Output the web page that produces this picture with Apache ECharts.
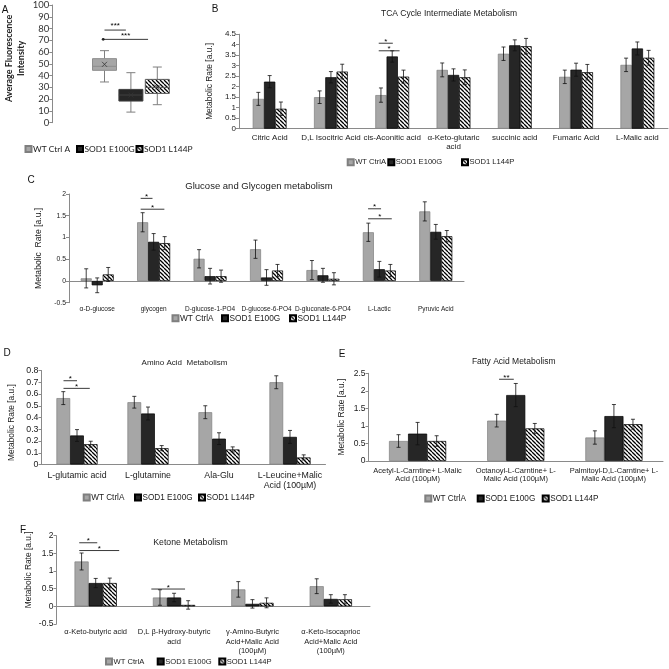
<!DOCTYPE html>
<html><head><meta charset="utf-8">
<script src="https://cdn.jsdelivr.net/npm/echarts@6.0.0/dist/echarts.min.js"></script>
<style>html,body{margin:0;padding:0;background:#fff}#c{width:669px;height:669px}</style>
</head><body><div id="c"></div>
<script>
// ---------------- DATA ----------------
const seriesNames = ['WT CtrlA', 'SOD1 E100G', 'SOD1 L144P'];

// Panel A (box plot)
const catA = ['WT Ctrl A', 'SOD1 E100G', 'SOD1 L144P'];
const boxA = [[34.6, 44.5, 47.9, 54.4, 61.2], [9, 18.4, 23.5, 28.3, 42.5], [15.3, 24.9, 30, 36.8, 47.3]];
const meanA = [49.6, 23.5, 30.2];
const sigA = [[0, 0, 0.81, 78.7], [0, -0.05, 1.65, 70.8]];
const sigTextA = ['***', '***'];

// Panel B
const catB = ['Citric Acid', 'D,L Isocitric Acid', 'cis-Aconitic acid', 'α-Keto-glutaric\nacid', 'succinic acid', 'Fumaric Acid', 'L-Malic acid'];
const wtB = [1.42, 1.5, 1.6, 2.8, 3.57, 2.47, 3.04];
const e100gB = [2.24, 2.45, 3.44, 2.56, 3.97, 2.81, 3.82];
const l144pB = [0.95, 2.72, 2.48, 2.45, 3.93, 2.69, 3.38];
const wtErrB = [0.31, 0.3, 0.34, 0.33, 0.32, 0.32, 0.32];
const e100gErrB = [0.29, 0.27, 0.27, 0.29, 0.26, 0.31, 0.31];
const l144pErrB = [0.32, 0.35, 0.31, 0.35, 0.37, 0.37, 0.35];
const sigB = [[2, -0.22, 0.01, 4.07], [2, -0.22, 0.12, 3.71]];
const sigTextB = ['*', '*'];

// Panel C
const catC = ['α-D-glucose', 'glycogen', 'D-glucose-1-PO4', 'D-glucose-6-PO4', 'D-gluconate-6-PO4', 'L-Lactic', 'Pyruvic Acid'];
const wtC = [0.06, 1.35, 0.51, 0.73, 0.25, 1.12, 1.6];
const e100gC = [-0.1, 0.9, 0.11, 0.08, 0.13, 0.27, 1.13];
const l144pC = [0.15, 0.87, 0.11, 0.24, 0.05, 0.24, 1.03];
const wtErrC = [0.22, 0.22, 0.21, 0.21, 0.22, 0.21, 0.22];
const e100gErrC = [0.17, 0.19, 0.18, 0.18, 0.16, 0.18, 0.17];
const l144pErrC = [0.16, 0.15, 0.14, 0.14, 0.14, 0.14, 0.13];
const sigC = [[1, -0.23, -0.02, 1.9], [1, -0.23, 0.19, 1.65], [5, -0.2, 0.03, 1.66], [5, -0.2, 0.22, 1.43]];
const sigTextC = ['*', '*', '*', '*'];

// Panel D
const catD = ['L-glutamic acid', 'L-glutamine', 'Ala-Glu', 'L-Leucine+Malic\nAcid (100µM)'];
const wtD = [0.565, 0.53, 0.445, 0.70];
const e100gD = [0.247, 0.434, 0.22, 0.235];
const l144pD = [0.173, 0.139, 0.128, 0.06];
const wtErrD = [0.055, 0.05, 0.055, 0.055];
const e100gErrD = [0.05, 0.055, 0.05, 0.055];
const l144pErrD = [0.025, 0.022, 0.022, 0.022];
const sigD = [[0, -0.19, 0.0, 0.713], [0, -0.19, 0.18, 0.648]];
const sigTextD = ['*', '*'];

// Panel E
const catE = ['Acetyl-L-Carntine+ L-Malic\nAcid (100µM)', 'Octanoyl-L-Carntine+ L-\nMalic Acid (100µM)', 'Palmitoyl-D,L-Carntine+ L-\nMalic Acid (100µM)'];
const wtE = [0.57, 1.15, 0.67];
const e100gE = [0.78, 1.88, 1.28];
const l144pE = [0.57, 0.93, 1.05];
const wtErrE = [0.18, 0.18, 0.19];
const e100gErrE = [0.32, 0.33, 0.33];
const l144pErrE = [0.15, 0.14, 0.14];
const sigE = [[1, -0.17, -0.02, 2.33]];
const sigTextE = ['**'];

// Panel F
const catF = ['α-Keto-butyric acid', 'D,L β-Hydroxy-butyric\nacid', 'γ-Amino-Butyric\nAcid+Malic Acid\n(100µM)', 'α-Keto-Isocaprioc\nAcid+Malic Acid\n(100µM)'];
const wtF = [1.27, 0.25, 0.48, 0.57];
const e100gF = [0.66, 0.25, 0.07, 0.21];
const l144pF = [0.66, 0.04, 0.1, 0.2];
const wtErrF = [0.24, 0.22, 0.22, 0.21];
const e100gErrF = [0.13, 0.12, 0.12, 0.12];
const l144pErrF = [0.14, 0.12, 0.14, 0.13];
const sigF = [[0, -0.21, 0.02, 1.8], [0, -0.21, 0.3, 1.58], [1, -0.29, 0.14, 0.49]];
const sigTextF = ['*', '*', '*'];

// ---------------- STYLE / BUILD ----------------
const FONT = 'Liberation Sans';
const FONT_A = 'Lato';
const AX = '#8a8a8a';
const TXT = '#1a1a1a';

function hatchCanvas() {
  const s = 4;
  const c = document.createElement('canvas');
  c.width = s; c.height = s;
  const g = c.getContext('2d');
  g.fillStyle = '#fff'; g.fillRect(0, 0, s, s);
  g.strokeStyle = '#000'; g.lineWidth = 1.3;
  g.beginPath();
  for (const k of [-s, 0, s]) { g.moveTo(k, 0); g.lineTo(k + s, s); }
  g.stroke();
  return c;
}
const hatch = { image: hatchCanvas(), repeat: 'repeat' };
const STY = [
  { color: '#a6a6a6', borderColor: '#7f7f7f', borderWidth: 0.7 },
  { color: '#262626', borderColor: '#000', borderWidth: 0.7 },
  { color: hatch, borderColor: '#000', borderWidth: 0.7 }
];

const grids = [], xAxes = [], yAxes = [], series = [], legends = [], titles = [];

function legendItems(names, lefts, cy, fs, fam) {
  names.forEach((n, i) => {
    legends.push({
      data: [n], left: lefts[i], top: cy - fs * 0.6, padding: 0, itemGap: 0,
      itemWidth: 6, itemHeight: 6, icon: 'rect', selectedMode: false,
      textStyle: { fontSize: fs, fontFamily: fam, color: TXT, padding: [0, 0, 0, -3.5] }
    });
  });
}

function sigSeries(gi, rows, texts, fs, dy) {
  return {
    type: 'custom', xAxisIndex: gi, yAxisIndex: gi, z: 6, silent: true,
    data: rows, encode: { x: 0, y: 3 },
    renderItem: (params, api) => {
      const cat = api.value(0), f1 = api.value(1), f2 = api.value(2), v = api.value(3);
      const p = api.coord([cat, v]);
      const band = api.size([1, 0])[0];
      const x1 = p[0] + f1 * band, x2 = p[0] + f2 * band;
      return {
        type: 'group', children: [
          { type: 'line', shape: { x1: x1, y1: p[1], x2: x2, y2: p[1] }, style: { stroke: '#222', lineWidth: 0.9 } },
          { type: 'text', x: (x1 + x2) / 2, y: p[1] - dy, style: { text: texts[params.dataIndex], font: fs + 'px "' + FONT + '"', fill: '#000', align: 'center', verticalAlign: 'middle' } }
        ]
      };
    }
  };
}

function errRender(off) {
  return (params, api) => {
    const i = api.value(0), m = api.value(1), e = api.value(2);
    const band = api.size([1, 0])[0];
    const x = api.coord([i, m])[0] + off * band;
    const yt = api.coord([i, m + e])[1], yb = api.coord([i, m - e])[1];
    const c = 2;
    const st = { stroke: '#111', lineWidth: 0.8 };
    return {
      type: 'group', children: [
        { type: 'line', shape: { x1: x, y1: yt, x2: x, y2: yb }, style: st },
        { type: 'line', shape: { x1: x - c, y1: yt, x2: x + c, y2: yt }, style: st },
        { type: 'line', shape: { x1: x - c, y1: yb, x2: x + c, y2: yb }, style: st }
      ]
    };
  };
}

function barPanel(o) {
  const gi = grids.length;
  grids.push(o.grid);
  xAxes.push({
    type: 'category', gridIndex: gi, data: o.cats,
    axisLine: { onZero: true, lineStyle: { color: AX } },
    axisTick: { length: 3, lineStyle: { color: AX } },
    axisLabel: { interval: 0, fontSize: o.xfs, fontFamily: FONT, color: TXT, margin: o.xm, lineHeight: o.xlh }
  });
  yAxes.push({
    type: 'value', gridIndex: gi, min: o.min, max: o.max, interval: o.interval,
    splitLine: { show: false },
    axisLine: { show: true, lineStyle: { color: AX } },
    axisTick: { show: true, length: 3, lineStyle: { color: AX } },
    axisLabel: { fontSize: o.yfs, fontFamily: FONT, color: TXT, margin: 3 },
    name: 'Metabolic' + (o.dblSpace ? '  ' : ' ') + 'Rate [a.u.]', nameLocation: 'middle', nameGap: o.ng, nameRotate: 90,
    nameTextStyle: { fontSize: o.nfs, fontFamily: FONT, color: TXT, padding: o.npad || 0 }
  });
  o.vals.forEach((v, k) => {
    series.push({
      type: 'bar', name: seriesNames[k], xAxisIndex: gi, yAxisIndex: gi, data: v,
      barWidth: (o.bw * 100) + '%', barGap: '0%', itemStyle: STY[k], silent: true
    });
  });
  o.vals.forEach((v, k) => {
    series.push({
      type: 'custom', xAxisIndex: gi, yAxisIndex: gi, z: 5, silent: true,
      data: v.map((m, i) => [i, m, o.errs[k][i]]), encode: { x: 0, y: 1 },
      renderItem: errRender((k - 1) * o.bw)
    });
  });
  if (o.sig) series.push(sigSeries(gi, o.sig, o.sigText, o.sigFs || 8, o.sigDy || 1.5));
  titles.push({
    text: o.title, left: o.tx, top: o.ty, textAlign: 'center', padding: 0,
    textStyle: { fontSize: o.tfs, fontWeight: 'normal', fontFamily: FONT, color: TXT }
  });
  legendItems(seriesNames, o.lg, o.lgy, o.lfs, FONT);
}

// ---- Panel A ----
(function () {
  const gi = grids.length;
  grids.push({ left: 91.3, top: 4.7, width: 79.2, height: 118 });
  xAxes.push({ type: 'category', gridIndex: gi, data: catA, show: false });
  yAxes.push({
    type: 'value', gridIndex: gi, min: 0, max: 100, interval: 10, offset: 39,
    splitLine: { show: false },
    axisLine: { show: true, lineStyle: { color: AX } },
    axisTick: { show: true, length: 3, lineStyle: { color: AX } },
    axisLabel: { fontSize: 9.5, fontFamily: FONT_A, color: '#333', margin: 3 },
    name: 'Average Fluorescence\nIntensity', nameLocation: 'middle', nameGap: 25, nameRotate: 90,
    nameTextStyle: { fontSize: 9, fontWeight: 'bold', fontFamily: FONT_A, color: '#222', lineHeight: 12, padding: [0, 0, 0, 11] }
  });
  const BOX = [
    { fill: '#a6a6a6', stroke: '#8c8c8c' },
    { fill: '#262626', stroke: '#404040' },
    { fill: hatch, stroke: '#595959' }
  ];
  series.push({ type: 'bar', name: 'WT Ctrl A', xAxisIndex: gi, yAxisIndex: gi, data: [], itemStyle: STY[0] });
  series.push({
    type: 'custom', xAxisIndex: gi, yAxisIndex: gi, silent: true,
    data: boxA.map((b, i) => [i].concat(b).concat([meanA[i]])),
    encode: { x: 0, y: [1, 2, 3, 4, 5] },
    renderItem: (params, api) => {
      const i = api.value(0);
      const P = k => api.coord([i, api.value(k)]);
      const lo = P(1), q1 = P(2), md = P(3), q3 = P(4), hi = P(5), mn = P(6);
      const cx = lo[0], hw = 12, cw = 4.5, s = BOX[i];
      const wl = { stroke: '#7f7f7f', lineWidth: 1 };
      const xs = 2.5;
      return {
        type: 'group', children: [
          { type: 'line', shape: { x1: cx, y1: hi[1], x2: cx, y2: q3[1] }, style: wl },
          { type: 'line', shape: { x1: cx - cw, y1: hi[1], x2: cx + cw, y2: hi[1] }, style: wl },
          { type: 'line', shape: { x1: cx, y1: q1[1], x2: cx, y2: lo[1] }, style: wl },
          { type: 'line', shape: { x1: cx - cw, y1: lo[1], x2: cx + cw, y2: lo[1] }, style: wl },
          { type: 'rect', shape: { x: cx - hw, y: q3[1], width: 2 * hw, height: q1[1] - q3[1] }, style: { fill: s.fill, stroke: s.stroke, lineWidth: 1 } },
          { type: 'line', shape: { x1: cx - hw, y1: md[1], x2: cx + hw, y2: md[1] }, style: { stroke: s.stroke, lineWidth: 1 } },
          { type: 'line', shape: { x1: cx - xs, y1: mn[1] - xs, x2: cx + xs, y2: mn[1] + xs }, style: { stroke: '#333', lineWidth: 0.8 } },
          { type: 'line', shape: { x1: cx - xs, y1: mn[1] + xs, x2: cx + xs, y2: mn[1] - xs }, style: { stroke: '#333', lineWidth: 0.8 } }
        ]
      };
    }
  });
  series.push(sigSeries(gi, sigA, sigTextA, 8, 4));
  // small dot at the start of the second significance line
  series.push({
    type: 'custom', xAxisIndex: gi, yAxisIndex: gi, silent: true, data: [sigA[1]], encode: { x: 0, y: 3 },
    renderItem: (params, api) => {
      const p = api.coord([api.value(0), api.value(3)]);
      const band = api.size([1, 0])[0];
      return { type: 'circle', shape: { cx: p[0] + api.value(1) * band, cy: p[1], r: 1.4 }, style: { fill: '#222' } };
    }
  });
  legendItems(catA, [24.5, 76, 135.5], 150, 8.4, FONT_A);
})();

// ---- Panel B ----
barPanel({
  grid: { left: 239, top: 34.2, width: 429, height: 94.5 },
  cats: catB, vals: [wtB, e100gB, l144pB], errs: [wtErrB, e100gErrB, l144pErrB],
  min: 0, max: 4.5, interval: 0.5, bw: 0.184,
  xfs: 8, xm: 5, xlh: 9, yfs: 8, ng: 21, nfs: 8.4,
  sig: sigB, sigText: sigTextB,
  title: 'TCA Cycle Intermediate Metabolism', tx: 449, ty: 9.5, tfs: 8.5,
  lg: [346.7, 387.3, 461], lgy: 162.7, lfs: 7.6
});

// ---- Panel C ----
barPanel({
  grid: { left: 69, top: 194, width: 395, height: 108.7 },
  cats: catC, vals: [wtC, e100gC, l144pC], errs: [wtErrC, e100gErrC, l144pErrC],
  min: -0.5, max: 2, interval: 0.5, bw: 0.195, dblSpace: true,
  xfs: 6.5, xm: 2.5, xlh: 8, yfs: 6.8, ng: 20.5, nfs: 8.6,
  sig: sigC, sigText: sigTextC,
  title: 'Glucose and Glycogen metabolism', tx: 259, ty: 181, tfs: 9.5,
  lg: [171.5, 221, 289], lgy: 319.3, lfs: 8.3
});

// ---- Panel D ----
barPanel({
  grid: { left: 41.5, top: 370.5, width: 284, height: 94 },
  cats: catD, vals: [wtD, e100gD, l144pD], errs: [wtErrD, e100gErrD, l144pErrD],
  min: 0, max: 0.8, interval: 0.1, bw: 0.193,
  xfs: 8.8, xm: 6, xlh: 10, yfs: 8.8, ng: 25.5, nfs: 8.4, npad: [0, 10, 0, 0],
  sig: sigD, sigText: sigTextD,
  title: 'Amino Acid  Metabolism', tx: 184.5, ty: 358.5, tfs: 8,
  lg: [82.7, 134, 198], lgy: 498.3, lfs: 8.2
});

// ---- Panel E ----
barPanel({
  grid: { left: 368.5, top: 373.3, width: 294.5, height: 87.7 },
  cats: catE, vals: [wtE, e100gE, l144pE], errs: [wtErrE, e100gErrE, l144pErrE],
  min: 0, max: 2.5, interval: 0.5, bw: 0.194,
  xfs: 7.5, xm: 5.5, xlh: 8.6, yfs: 8.5, ng: 22.5, nfs: 8.4,
  sig: sigE, sigText: sigTextE,
  title: 'Fatty Acid Metabolism', tx: 513.7, ty: 357, tfs: 8.5,
  lg: [424.3, 476.7, 541.7], lgy: 499.3, lfs: 8.2
});

// ---- Panel F ----
barPanel({
  grid: { left: 56.5, top: 535.7, width: 313.5, height: 88.3 },
  cats: catF, vals: [wtF, e100gF, l144pF], errs: [wtErrF, e100gErrF, l144pErrF],
  min: -0.5, max: 2, interval: 0.5, bw: 0.18,
  xfs: 7.5, xm: 3.5, xlh: 9.3, yfs: 8.5, ng: 24, nfs: 8.4, npad: [0, 0, 0, 20],
  sig: sigF, sigText: sigTextF,
  title: 'Ketone Metabolism', tx: 190.5, ty: 538.5, tfs: 8.7,
  lg: [105, 156.7, 218.3], lgy: 662, lfs: 7.6
});

const letters = [['A', 5, 10], ['B', 215, 9], ['C', 31, 180], ['D', 7, 353], ['E', 342, 354], ['F', 23, 530]];

const chart = echarts.init(document.getElementById('c'), null, { renderer: 'canvas' });
chart.setOption({
  animation: false,
  backgroundColor: '#fff',
  title: titles,
  legend: legends,
  grid: grids,
  xAxis: xAxes,
  yAxis: yAxes,
  series: series,
  graphic: letters.map(l => ({
    type: 'text', x: l[1], y: l[2], silent: true,
    style: { text: l[0], font: '10px "' + FONT + '"', fill: '#111', align: 'center', verticalAlign: 'middle' }
  }))
});
</script></body></html>
